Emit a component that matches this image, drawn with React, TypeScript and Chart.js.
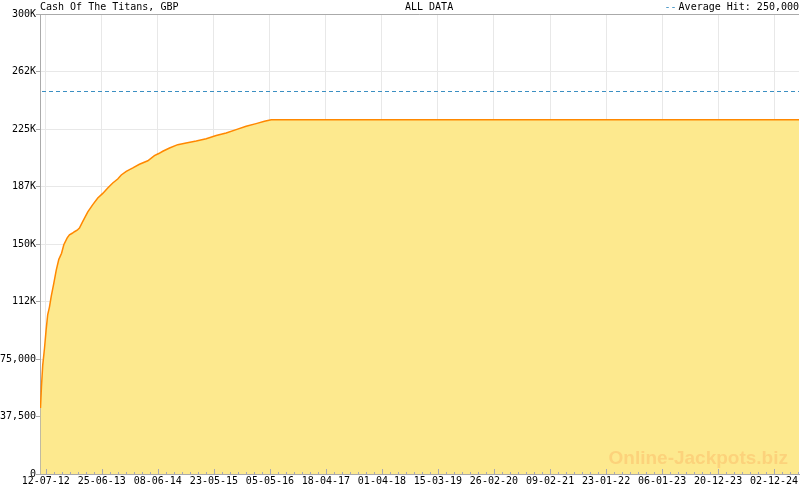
import React, { useEffect, useRef } from 'react';
import { Chart, registerables } from 'chart.js';

Chart.register(...registerables);

const chartTitle = 'Cash Of The Titans, GBP';
const rangeLabel = 'ALL DATA';
const averageHit = 250000;
const averageLabel = 'Average Hit: 250,000';
const watermarkText = 'Online-Jackpots.biz';

const dates = [
  '2012-06-09', '2012-06-15', '2012-06-23', '2012-07-04', '2012-07-14', '2012-07-24',
  '2012-08-04', '2012-08-15', '2012-08-31', '2012-09-15', '2012-10-01', '2012-10-18',
  '2012-11-01', '2012-11-22', '2012-12-06', '2012-12-23', '2013-01-06', '2013-01-23',
  '2013-02-06', '2013-02-27', '2013-03-30', '2013-04-30', '2013-05-31', '2013-07-01',
  '2013-08-01', '2013-09-01', '2013-10-02', '2013-10-24', '2013-11-24', '2014-01-04',
  '2014-02-14', '2014-04-07', '2014-05-18', '2014-06-14', '2014-07-09', '2014-08-20',
  '2014-10-10', '2014-12-01', '2015-02-02', '2015-04-05', '2015-06-06', '2015-08-07',
  '2015-10-08', '2015-12-09', '2016-02-09', '2016-04-01', '2016-05-13', '2025-05-06',
];

const values = [
  43000, 57000, 71000, 82000, 94000, 104000,
  109000, 116000, 124500, 133000, 140000, 144000,
  149500, 154000, 156000, 157000, 158000, 159000,
  160400, 164800, 171000, 175700, 180000, 183000,
  186500, 189800, 192400, 195000, 197400, 199600,
  202000, 204300, 207600, 209000, 210500, 212600,
  214800, 215900, 217200, 218700, 220700, 222400,
  224600, 226800, 228500, 230000, 231000, 231000,
];

const xTickLabels = [
  '12-07-12', '25-06-13', '08-06-14', '23-05-15', '05-05-16', '18-04-17', '01-04-18',
  '15-03-19', '26-02-20', '09-02-21', '23-01-22', '06-01-23', '20-12-23', '02-12-24',
];

const xRange = ['2012-06-06', '2025-05-06'];

const yTickValues = [0, 37500, 75000, 112500, 150000, 187500, 225000, 262500, 300000];
const yTickLabels = ['0', '37,500', '75,000', '112K', '150K', '187K', '225K', '262K', '300K'];

const MONO = '"DejaVu Sans Mono", "Liberation Mono", monospace';

function parseIso(s: string): number {
  const [y, m, d] = s.split('-').map(Number);
  return Date.UTC(y, m - 1, d);
}
function parseLabel(s: string): number {
  const [d, m, y] = s.split('-').map(Number);
  return Date.UTC(2000 + y, m - 1, d);
}

const decorPlugin = {
  id: 'decor',
  afterDatasetsDraw(chart: any) {
    const { ctx, chartArea: a, scales } = chart;
    const x = scales.x;
    const y = scales.y;
    ctx.save();
    // watermark
    ctx.font = 'bold 19px "Liberation Sans", Arial, sans-serif';
    ctx.fillStyle = '#fcd27b';
    ctx.textAlign = 'right';
    ctx.textBaseline = 'alphabetic';
    ctx.fillText(watermarkText, a.right - 11, a.bottom - 10);

    // average line
    const yy = Math.round(y.getPixelForValue(averageHit)) + 0.5;
    ctx.strokeStyle = '#3b8fc2';
    ctx.lineWidth = 1;
    ctx.setLineDash([4, 3]);
    ctx.beginPath();
    ctx.moveTo(a.left + 2, yy);
    ctx.lineTo(a.right, yy);
    ctx.stroke();
    ctx.setLineDash([]);

    // top border
    ctx.strokeStyle = '#aaaaaa';
    ctx.beginPath();
    ctx.moveTo(a.left, Math.round(a.top) + 0.5);
    ctx.lineTo(a.right, Math.round(a.top) + 0.5);
    ctx.stroke();

    // x tick marks (major + minor), pointing up into plot
    const majors = xTickLabels.map(parseLabel);
    const step = (majors[majors.length - 1] - majors[0]) / (majors.length - 1) / 7;
    ctx.strokeStyle = '#a8a8b4';
    const k0 = Math.ceil((x.min - majors[0]) / step);
    for (let k = k0; majors[0] + k * step <= x.max; k++) {
      const px = Math.round(x.getPixelForValue(majors[0] + k * step)) + 0.5;
      if (px <= a.left + 1) continue;
      const len = ((k % 7) + 7) % 7 === 0 ? 5 : 2;
      ctx.beginPath();
      ctx.moveTo(px, a.bottom);
      ctx.lineTo(px, a.bottom - len);
      ctx.stroke();
    }
    ctx.restore();
  },
  afterDraw(chart: any) {
    const { ctx, chartArea: a } = chart;
    ctx.save();
    ctx.font = '10px ' + MONO;
    ctx.textBaseline = 'middle';
    ctx.fillStyle = '#000';
    ctx.textAlign = 'left';
    ctx.fillText(chartTitle, a.left, 7);
    ctx.fillText(rangeLabel, 405, 7);
    ctx.textAlign = 'right';
    ctx.fillText(averageLabel, 799, 7);
    const w = ctx.measureText(averageLabel).width;
    ctx.fillStyle = '#3b8fc2';
    ctx.fillText('--', 799 - w - 2, 7);
    ctx.restore();
  },
};

export default function App() {
  const ref = useRef<HTMLCanvasElement | null>(null);
  useEffect(() => {
    document.body.style.margin = '0';
    const canvas = ref.current;
    if (!canvas) return;
    const points = dates.map((d, i) => ({ x: parseIso(d), y: values[i] }));
    const majors = xTickLabels.map(parseLabel);
    const chart = new Chart(canvas, {
      type: 'line',
      data: {
        datasets: [
          {
            data: points,
            borderColor: '#ff8800',
            borderWidth: 1.5,
            backgroundColor: '#fde98e',
            fill: 'origin',
            pointRadius: 0,
            tension: 0,
          },
        ],
      },
      options: {
        animation: false,
        responsive: false,
        devicePixelRatio: 1,
        layout: { padding: { top: 14, right: 1, bottom: 0, left: 0 } },
        plugins: { legend: { display: false }, tooltip: { enabled: false }, title: { display: false } },
        scales: {
          x: {
            type: 'linear',
            min: parseIso(xRange[0]),
            max: parseIso(xRange[1]),
            afterBuildTicks: (scale: any) => {
              scale.ticks = majors.map((v) => ({ value: v }));
            },
            afterFit: (scale: any) => {
              scale.height = 16;
            },
            ticks: {
              autoSkip: false,
              maxRotation: 0,
              minRotation: 0,
              padding: 1,
              color: '#000',
              font: { family: MONO, size: 10 },
              callback: (_v: any, i: number) => xTickLabels[i],
            },
            grid: { color: '#e8e8e8', drawTicks: false, lineWidth: 1 },
            border: { display: true, color: '#aaaaaa', width: 1 },
          },
          y: {
            type: 'linear',
            min: 0,
            max: 300000,
            afterBuildTicks: (scale: any) => {
              scale.ticks = yTickValues.map((v) => ({ value: v }));
            },
            afterFit: (scale: any) => {
              scale.width = 40;
            },
            ticks: {
              autoSkip: false,
              padding: 0,
              color: '#000',
              font: { family: MONO, size: 10 },
              callback: (_v: any, i: number) => yTickLabels[i],
            },
            grid: { color: '#e8e8e8', drawTicks: true, tickLength: 4, tickColor: '#aaaaaa', lineWidth: 1 },
            border: { display: true, color: '#aaaaaa', width: 1 },
          },
        },
      },
      plugins: [decorPlugin],
    });
    return () => chart.destroy();
  }, []);
  return (
    <div style={{ width: 800, height: 490, background: '#fff' }}>
      <canvas ref={ref} width={800} height={490} style={{ display: 'block' }} />
    </div>
  );
}
